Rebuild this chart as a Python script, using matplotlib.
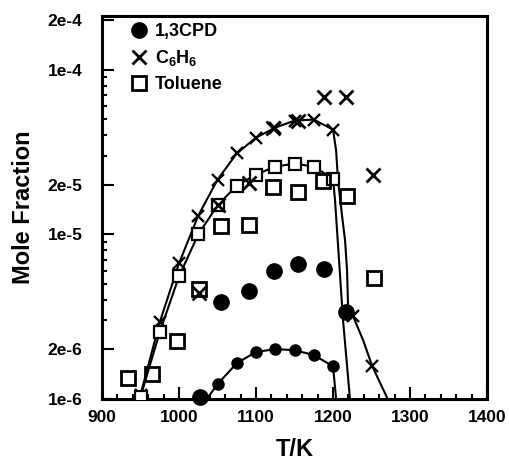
import matplotlib
matplotlib.use("Agg")
import matplotlib.pyplot as plt
from matplotlib.ticker import FixedLocator, FixedFormatter, NullFormatter

plt.rcParams['font.family'] = ['Liberation Sans', 'DejaVu Sans']
plt.rcParams['font.weight'] = 'bold'
plt.rcParams['mathtext.fontset'] = 'custom'
plt.rcParams['mathtext.rm'] = 'Liberation Sans:bold'
plt.rcParams['mathtext.it'] = 'Liberation Sans:bold'
plt.rcParams['mathtext.bf'] = 'Liberation Sans:bold'

# ---- experimental data ----
cpd_T = [1027, 1055, 1091, 1123, 1155, 1188, 1217]
cpd_y = [1.03e-6, 3.9e-6, 4.5e-6, 6.0e-6, 6.6e-6, 6.2e-6, 3.4e-6]

benz_T = [1026, 1051, 1091, 1122, 1154, 1188, 1217, 1252]
benz_y = [4.4e-6, 1.5e-5, 2.04e-5, 4.45e-5, 4.9e-5, 6.8e-5, 6.8e-5, 2.28e-5]

tol_T = [934, 965, 997, 1026, 1055, 1091, 1122, 1155, 1187, 1218, 1253]
tol_y = [1.34e-6, 1.42e-6, 2.25e-6, 4.64e-6, 1.13e-5, 1.14e-5, 1.93e-5,
         1.80e-5, 2.12e-5, 1.72e-5, 5.4e-6]

# ---- model markers ----
cpd_mod_T = [1050, 1075, 1100, 1125, 1150, 1175, 1200]
cpd_mod_y = [1.23e-6, 1.65e-6, 1.93e-6, 2.01e-6, 1.98e-6, 1.85e-6, 1.58e-6]

benz_mod_T = [950, 975, 1000, 1025, 1050, 1075, 1100, 1125, 1150, 1175, 1200, 1226, 1251]
benz_mod_y = [1.06e-6, 2.93e-6, 6.67e-6, 1.30e-5, 2.15e-5, 3.10e-5, 3.87e-5,
              4.45e-5, 4.91e-5, 4.98e-5, 4.33e-5, 3.18e-6, 1.58e-6]

tol_mod_T = [950, 975, 1000, 1025, 1050, 1075, 1100, 1125, 1150, 1175, 1200]
tol_mod_y = [1.03e-6, 2.55e-6, 5.56e-6, 1.0e-5, 1.5e-5, 1.98e-5, 2.31e-5,
             2.58e-5, 2.69e-5, 2.58e-5, 2.18e-5]

# ---- model curves ----
cpd_line_T = [1036, 1050, 1075, 1100, 1125, 1150, 1175, 1200, 1204]
cpd_line_y = [1.0e-6, 1.23e-6, 1.65e-6, 1.93e-6, 2.01e-6, 1.98e-6, 1.85e-6, 1.58e-6, 1.0e-6]

benz_line_T = [947, 950, 975, 1000, 1025, 1050, 1075, 1100, 1125, 1150, 1175, 1200,
               1204, 1206.5, 1211.7, 1215.6, 1218.2, 1219.5, 1226, 1239, 1251, 1271]
benz_line_y = [1.0e-6, 1.06e-6, 2.93e-6, 6.67e-6, 1.30e-5, 2.15e-5, 3.10e-5, 3.87e-5,
               4.45e-5, 4.91e-5, 4.98e-5, 4.33e-5, 3.23e-5, 2.12e-5, 1.30e-5, 9.2e-6,
               6.05e-6, 3.71e-6, 3.18e-6, 2.28e-6, 1.58e-6, 1.0e-6]

tol_line_T = [948, 950, 975, 1000, 1025, 1050, 1075, 1100, 1125, 1150, 1175, 1200,
              1202.6, 1205.2, 1207.8, 1213, 1222]
tol_line_y = [1.0e-6, 1.03e-6, 2.55e-6, 5.56e-6, 1.0e-5, 1.5e-5, 1.98e-5, 2.31e-5,
              2.58e-5, 2.69e-5, 2.58e-5, 2.18e-5, 1.61e-5, 1.06e-5, 6.96e-6, 3.01e-6, 1.0e-6]

x_ticks = [900, 1000, 1100, 1200, 1300, 1400]
y_major = [1e-6, 2e-6, 1e-5, 2e-5, 1e-4, 2e-4]
y_labels = ['1e-6', '2e-6', '1e-5', '2e-5', '1e-4', '2e-4']
y_minor = [m * 10.0 ** e for e in (-6, -5, -4) for m in range(3, 10)]

fig = plt.figure(figsize=(5.10, 4.67), dpi=100)
ax = fig.add_axes([0.2, 0.1456, 0.755, 0.8201])

lw = 1.5
ax.plot(cpd_line_T, cpd_line_y, color='black', lw=lw, zorder=2)
ax.plot(benz_line_T, benz_line_y, color='black', lw=lw, zorder=2)
ax.plot(tol_line_T, tol_line_y, color='black', lw=lw, zorder=2)

ax.plot(cpd_mod_T, cpd_mod_y, ls='none', marker='o', ms=8, color='black', zorder=3)
ax.plot(benz_mod_T, benz_mod_y, ls='none', marker='x', ms=9, mew=1.7, color='black', zorder=3)
ax.plot(tol_mod_T, tol_mod_y, ls='none', marker='s', ms=8, mew=1.6, mfc='white',
        mec='black', zorder=3)

h1, = ax.plot(cpd_T, cpd_y, ls='none', marker='o', ms=11, color='black', zorder=4,
              label='1,3CPD', clip_on=False)
h2, = ax.plot(benz_T, benz_y, ls='none', marker='x', ms=10.5, mew=2.0, color='black',
              zorder=4, label=r'C$_6$H$_6$')
h3, = ax.plot(tol_T, tol_y, ls='none', marker='s', ms=10, mew=2.0, mfc='none',
              mec='black', zorder=4, label='Toluene')

ax.set_yscale('log')
ax.set_xlim(900, 1400)
ax.set_ylim(1e-6, 2.12e-4)

ax.set_xticks(x_ticks)
ax.set_xticklabels([str(t) for t in x_ticks])
ax.xaxis.set_minor_locator(FixedLocator(list(range(920, 1400, 20))))
ax.yaxis.set_major_locator(FixedLocator(y_major))
ax.yaxis.set_major_formatter(FixedFormatter(y_labels))
ax.yaxis.set_minor_locator(FixedLocator(y_minor))
ax.yaxis.set_minor_formatter(NullFormatter())

for s in ax.spines.values():
    s.set_linewidth(2.2)
ax.tick_params(axis='both', which='major', direction='in', length=8.5, width=1.5,
               labelsize=12.5)
ax.tick_params(axis='both', which='minor', direction='in', length=3.8, width=1.5)
ax.tick_params(axis='x', which='major', pad=8)
ax.tick_params(axis='y', which='major', pad=14)
ax.tick_params(top=False, right=False, which='both')

ax.set_xlabel('T/K', fontsize=17, fontweight='bold', labelpad=9)
ax.set_ylabel('Mole Fraction', fontsize=17, fontweight='bold', labelpad=9)

leg = ax.legend(handles=[h1, h2, h3], loc='upper left', bbox_to_anchor=(0.053, 1.0),
                frameon=False, fontsize=13, handlelength=1.0, handletextpad=0.4,
                labelspacing=0.45, borderaxespad=0.0)

fig.savefig('out.png', dpi=100)
